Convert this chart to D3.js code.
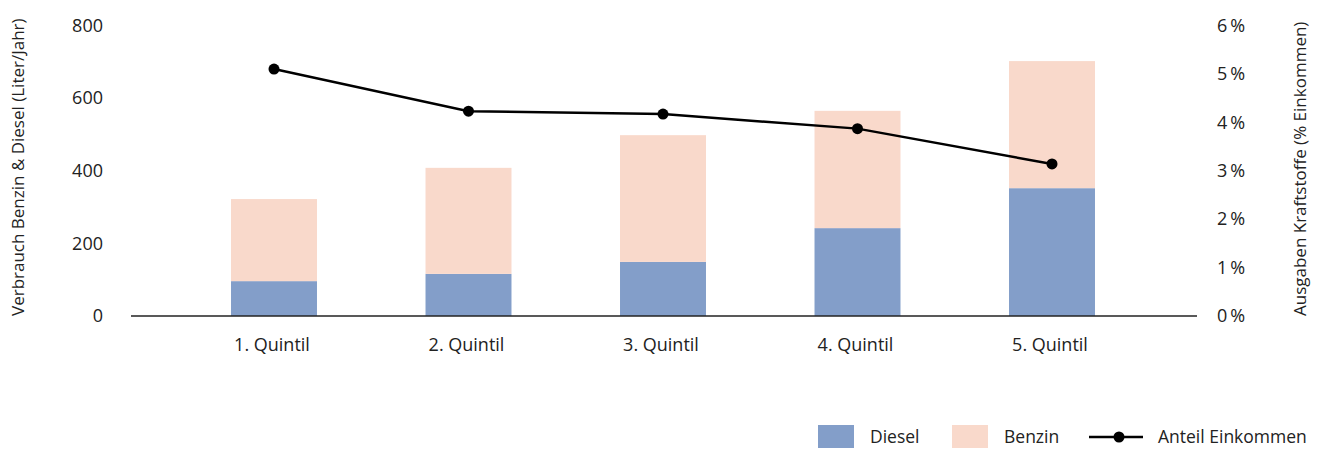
<!DOCTYPE html>
<html>
<head>
<meta charset="utf-8">
<script src="https://cdn.jsdelivr.net/npm/d3@7"></script>
<style>
  html, body { margin: 0; padding: 0; background: #fff; }
  svg { display: block; font-family: "Open Sans", "Noto Sans", sans-serif; }
  text { fill: #222; }
</style>
</head>
<body>
<svg id="chart" width="1320" height="458"></svg>
<script>
const categories = ["1. Quintil", "2. Quintil", "3. Quintil", "4. Quintil", "5. Quintil"];
const diesel = [96, 116, 149, 242, 352];
const benzin = [226, 292, 349, 323, 350];
const anteil = [5.10, 4.23, 4.17, 3.87, 3.14];
const leftTicks = [0, 200, 400, 600, 800];
const rightTicks = [0, 1, 2, 3, 4, 5, 6];
const seriesNames = ["Diesel", "Benzin", "Anteil Einkommen"];
const colors = { Diesel: "#839ec9", Benzin: "#f9d9cb", line: "#000" };

const FONT = '"Open Sans", "Noto Sans", sans-serif';
const svg = d3.select("#chart");
const plotTop = 25.5, plotBottom = 316;
const axisLeft = 131, axisRight = 1197;

const x = d3.scaleBand().domain(categories).range([176.75, 1149.25])
  .paddingInner(0.558).paddingOuter(0.279);
const yL = d3.scaleLinear().domain([0, 800]).range([plotBottom, plotTop]);
const yR = d3.scaleLinear().domain([0, 6]).range([plotBottom, plotTop]);

const rows = categories.map((c, i) => ({ cat: c, Diesel: diesel[i], Benzin: benzin[i] }));
const stack = d3.stack().keys(["Diesel", "Benzin"])(rows);

svg.append("g").selectAll("g").data(stack).join("g")
  .attr("fill", d => colors[d.key])
  .selectAll("rect").data(d => d).join("rect")
  .attr("x", d => x(d.data.cat))
  .attr("width", x.bandwidth())
  .attr("y", d => yL(d[1]))
  .attr("height", d => yL(d[0]) - yL(d[1]));

// baseline
svg.append("line")
  .attr("x1", axisLeft).attr("x2", axisRight)
  .attr("y1", yL(0)).attr("y2", yL(0))
  .attr("stroke", "#222").attr("stroke-width", 1.5);

function styleAxis(g) {
  g.attr("font-family", FONT).attr("font-size", 18);
  g.select(".domain").remove();
  g.selectAll("text").style("fill", "#222");
}

// left axis
const gL = svg.append("g").attr("transform", `translate(${axisLeft},0)`)
  .call(d3.axisLeft(yL).tickValues(leftTicks).tickSize(0).tickPadding(28));
styleAxis(gL);

// right axis
const gR = svg.append("g").attr("transform", `translate(${axisRight},0)`)
  .call(d3.axisRight(yR).tickValues(rightTicks).tickSize(0).tickPadding(20)
    .tickFormat(d => d + "\u2009%"));
styleAxis(gR);

// bottom axis
const gB = svg.append("g").attr("transform", `translate(0,${plotBottom})`)
  .call(d3.axisBottom(x).tickSize(0).tickPadding(22));
styleAxis(gB);
gB.selectAll(".tick text").attr("dx", "-2");

// axis titles
svg.append("text")
  .attr("transform", `translate(24,${plotBottom}) rotate(-90)`)
  .attr("text-anchor", "start")
  .style("font-size", "17px")
  .text("Verbrauch Benzin & Diesel (Liter/Jahr)");
svg.append("text")
  .attr("transform", `translate(1306,${plotBottom}) rotate(-90)`)
  .attr("text-anchor", "start")
  .style("font-size", "17px")
  .text("Ausgaben Kraftstoffe (% Einkommen)");

// line
const cx = c => x(c) + x.bandwidth() / 2;
const lineGen = d3.line().x((d, i) => cx(categories[i])).y(d => yR(d));
svg.append("path").datum(anteil)
  .attr("d", lineGen).attr("fill", "none")
  .attr("stroke", colors.line).attr("stroke-width", 2.5);
svg.append("g").selectAll("circle").data(anteil).join("circle")
  .attr("cx", (d, i) => cx(categories[i])).attr("cy", d => yR(d))
  .attr("r", 5.5).attr("fill", colors.line);

// legend
const lg = svg.append("g");
const legY = 437;
lg.append("rect").attr("x", 818).attr("y", 425).attr("width", 36).attr("height", 23).attr("fill", colors.Diesel);
lg.append("text").attr("x", 870).attr("y", legY).attr("dy", "0.35em").style("font-size", "17.5px").text(seriesNames[0]);
lg.append("rect").attr("x", 952).attr("y", 425).attr("width", 36).attr("height", 23).attr("fill", colors.Benzin);
lg.append("text").attr("x", 1004).attr("y", legY).attr("dy", "0.35em").style("font-size", "17.5px").text(seriesNames[1]);
lg.append("line").attr("x1", 1089).attr("x2", 1143).attr("y1", legY).attr("y2", legY)
  .attr("stroke", colors.line).attr("stroke-width", 2.5);
lg.append("circle").attr("cx", 1119).attr("cy", legY).attr("r", 5.5).attr("fill", colors.line);
lg.append("text").attr("x", 1158).attr("y", legY).attr("dy", "0.35em").style("font-size", "17.5px").text(seriesNames[2]);
</script>
</body>
</html>
